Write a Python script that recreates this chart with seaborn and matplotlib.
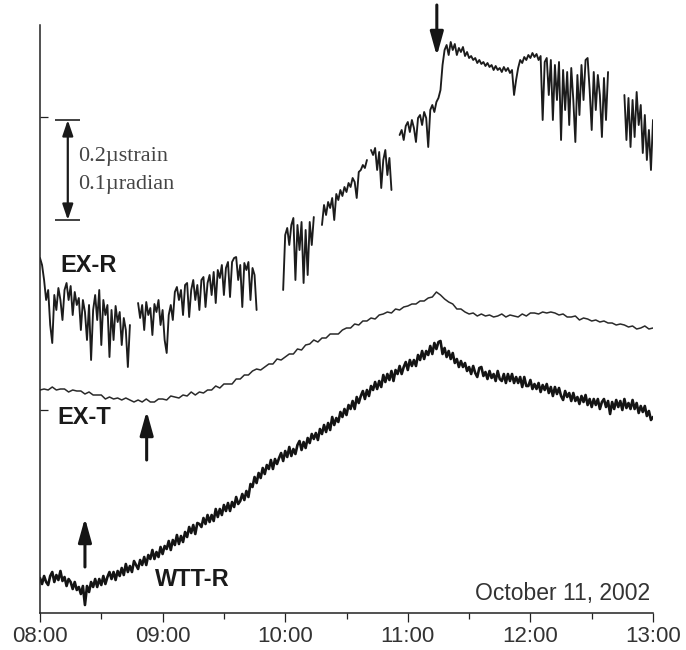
import numpy as np
import pandas as pd
import matplotlib
matplotlib.use("Agg")
import matplotlib.pyplot as plt
import seaborn as sns

nan = np.nan

# ---- axis data: minutes after 08:00 ----
tick_minutes = [0, 60, 120, 180, 240, 300]
tick_labels = ["08:00", "09:00", "10:00", "11:00", "12:00", "13:00"]
minor_minutes = [30, 90, 150, 210, 270]
date_label = "October 11, 2002"
trace_names = ["EX-R", "EX-T", "WTT-R"]

# relative level, 1 unit = 0.002 µstrain (scale bar: 100 units = 0.2 µstrain / 0.1 µradian)
minutes_1 = np.arange(0, 301)        # 1-minute samples (EX-R, WTT-R)
minutes_2 = np.arange(0, 301, 2)     # 2-minute samples (EX-T)

ex_r = [
    355, 348, 333, 313, 323, 288, 270, 318, 303, 325,
    313, 293, 323, 330, 313, 327, 298, 321, 308, 315,
    283, 313, 301, 273, 308, 253, 303, 318, 293, 323,
    268, 313, 298, 308, 256, 303, 273, 307, 291, 301,
    268, 295, 283, 246, 288, nan, nan, nan, 310, 295,
    308, 283, 311, 298, 305, 278, 309, 301, 313, 288,
    303, 273, 260, 298, 308, 293, 321, 326, 313, 323,
    298, 328, 330, 296, 323, 333, 313, 328, 303, 333,
    336, 306, 330, 338, 318, 341, 310, 343, 335, 348,
    318, 345, 351, 316, 351, 355, 356, 333, 348, 306,
    350, 343, 351, 313, 345, 338, 303, nan, nan, nan,
    nan, nan, nan, nan, nan, nan, nan, nan, nan, 323,
    378, 385, 368, 388, 395, 333, 388, 363, 391, 330,
    383, 338, 391, 368, 396, nan, nan, nan, 388, 408,
    398, 411, 405, 415, 393, 419, 413, 423, 417, 426,
    421, 430, 426, 435, 431, 415, 441, 443, 448, 445,
    453, nan, 463, 458, 465, 443, 461, 425, 453, 463,
    438, 455, 423, nan, nan, nan, 478, 483, 473, 487,
    491, 481, 493, 485, 471, 495, 498, 488, 501, 495,
    466, 503, 508, 501, 511, 515, 523, 548, 563, 568,
    558, 571, 563, 569, 558, 565, 561, 566, 557, 561,
    555, 557, 553, 555, 550, 553, 549, 551, 547, 550,
    546, 548, 543, 547, 543, 545, 541, 546, 542, 545,
    540, 543, 518, 533, 545, 553, 550, 556, 553, 558,
    555, 560, 556, 559, 553, 557, 493, 551, 555, 518,
    553, 493, 548, 513, 551, 473, 543, 503, 541, 488,
    545, 513, 471, 538, 498, 548, 513, 553, 555, 523,
    483, 541, 503, 538, 518, 476, 535, 493, 541, nan,
    nan, nan, nan, nan, nan, nan, 518, 473, 515, 466,
    513, 476, 521, 488, 508, 460, 498, 453, 483, 443,
    493,
]

ex_t = [
    223, 224, 223, 226, 223, 224, 224, 221, 223, 222,
    222, 219, 221, 218, 218, 218, 214, 216, 214, 215,
    213, 215, 213, 211, 213, 211, 214, 211, 211, 214,
    214, 213, 217, 216, 215, 218, 217, 221, 218, 221,
    220, 223, 223, 227, 225, 229, 229, 229, 234, 234,
    238, 238, 242, 244, 243, 246, 249, 249, 254, 253,
    256, 259, 259, 264, 263, 268, 269, 273, 271, 275,
    275, 279, 279, 279, 283, 285, 285, 289, 288, 292,
    292, 295, 294, 298, 299, 301, 300, 304, 303, 306,
    307, 309, 309, 312, 312, 315, 316, 321, 318, 314,
    311, 309, 304, 304, 301, 299, 300, 297, 299, 297,
    298, 296, 297, 299, 296, 298, 297, 296, 299, 297,
    300, 300, 299, 301, 300, 301, 300, 298, 299, 296,
    296, 297, 293, 295, 294, 292, 293, 291, 292, 290,
    290, 288, 289, 288, 286, 287, 284, 285, 287, 284,
    285,
]

wtt_r = [
    35, 29, 37, 31, 28, 37, 41, 31, 38, 33,
    42, 32, 36, 27, 34, 31, 24, 31, 23, 26,
    19, 27, 8, 27, 21, 31, 26, 34, 26, 34,
    28, 37, 29, 36, 41, 34, 41, 33, 42, 37,
    45, 38, 49, 41, 47, 41, 52, 48, 44, 53,
    48, 56, 48, 58, 54, 63, 54, 61, 56, 66,
    59, 67, 64, 72, 63, 73, 68, 78, 69, 77,
    71, 81, 76, 86, 80, 88, 79, 90, 89, 86,
    95, 89, 98, 91, 98, 92, 104, 96, 104, 98,
    108, 102, 110, 102, 111, 106, 116, 109, 112, 119,
    113, 122, 116, 129, 126, 136, 130, 140, 135, 145,
    139, 148, 144, 153, 144, 154, 149, 155, 160, 152,
    162, 156, 166, 157, 164, 159, 168, 172, 163, 171,
    165, 175, 170, 179, 174, 180, 173, 184, 179, 188,
    181, 190, 183, 196, 188, 195, 191, 201, 196, 204,
    198, 208, 204, 212, 204, 216, 210, 217, 222, 214,
    223, 217, 227, 223, 231, 224, 232, 226, 238, 231,
    239, 233, 242, 232, 243, 239, 247, 239, 246, 251,
    243, 253, 247, 253, 247, 258, 253, 262, 254, 262,
    258, 267, 259, 270, 264, 271, 272, 259, 265, 256,
    262, 254, 260, 250, 254, 246, 252, 246, 250, 242,
    246, 239, 247, 240, 236, 245, 246, 237, 241, 234,
    242, 235, 239, 232, 242, 234, 232, 239, 230, 239,
    232, 239, 230, 236, 230, 236, 226, 236, 227, 227,
    233, 224, 229, 224, 230, 221, 228, 223, 229, 220,
    226, 217, 226, 219, 225, 217, 213, 222, 216, 220,
    212, 220, 212, 216, 209, 217, 211, 218, 208, 214,
    206, 214, 208, 214, 204, 211, 214, 206, 212, 199,
    211, 204, 213, 206, 212, 203, 214, 205, 210, 204,
    213, 204, 210, 200, 207, 201, 207, 197, 202, 193,
    196,
]

# scale bar (data units)
scale_lo, scale_hi = 393, 493
scale_texts = ["0.2µstrain", "0.1µradian"]


def to_frame(t, v):
    arr = np.asarray(v, dtype=float)
    seg = np.cumsum(np.isnan(arr))
    ok = ~np.isnan(arr)
    return pd.DataFrame({"t": np.asarray(t)[ok], "v": arr[ok], "seg": seg[ok]})


sns.set_theme(style="ticks")
plt.rcParams["font.family"] = ["Liberation Sans", "DejaVu Sans"]

fig = plt.figure(figsize=(6.86, 6.5), dpi=100)
ax = fig.add_axes([40 / 686, 37 / 650, 613 / 686, 588 / 650])

df_r = to_frame(minutes_1, ex_r)
df_t = to_frame(minutes_2, ex_t)
df_w = to_frame(minutes_1, wtt_r)

sns.lineplot(data=df_r, x="t", y="v", units="seg", estimator=None, sort=False,
             color="#1c1c1c", linewidth=1.35, ax=ax, legend=False)
sns.lineplot(data=df_t, x="t", y="v", units="seg", estimator=None, sort=False,
             color="#2a2a2a", linewidth=1.1, ax=ax, legend=False)
sns.lineplot(data=df_w, x="t", y="v", units="seg", estimator=None, sort=False,
             color="#141414", linewidth=1.9, ax=ax, legend=False)

ax.set_xlim(0, 300)
ax.set_ylim(0, 588)
ax.set_xlabel("")
ax.set_ylabel("")
sns.despine(ax=ax)
for s in ("left", "bottom"):
    ax.spines[s].set_linewidth(1.1)
    ax.spines[s].set_color("#222222")

ax.set_xticks(tick_minutes)
ax.set_xticklabels(tick_labels)
ax.set_xticks(minor_minutes, minor=True)
ax.tick_params(axis="x", which="major", direction="out", length=6.5, width=0.9,
               pad=3, labelsize=16, colors="#222222", labelcolor="#333333")
ax.tick_params(axis="x", which="minor", direction="out", length=4, width=0.9,
               colors="#222222")
ax.set_yticks([203, 496])
ax.set_yticklabels([])
ax.tick_params(axis="y", which="major", direction="in", length=5.8, width=0.9,
               colors="#222222")

# trace labels
lab_kw = dict(fontsize=17, fontweight="heavy", color="#1a1a1a", va="center", ha="left")
ax.text(9.8, 348, trace_names[0], **lab_kw)
ax.text(8.3, 195, trace_names[1], **lab_kw)
ax.text(56.3, 33, trace_names[2], **lab_kw)

ax.text(298.5, 13, date_label, fontsize=16.5, color="#333333", ha="right", va="baseline")

# scale bar
bar_color = "#333333"
ax.plot([7.3, 19.6], [scale_hi, scale_hi], color=bar_color, lw=1.3, solid_capstyle="butt")
ax.plot([7.3, 19.6], [scale_lo, scale_lo], color=bar_color, lw=1.3, solid_capstyle="butt")
ax.annotate("", xy=(13.6, scale_hi), xytext=(13.6, scale_lo),
            arrowprops=dict(arrowstyle="<|-|>,head_length=0.47,head_width=0.16",
                            mutation_scale=20, lw=1.6, color="#1a1a1a",
                            shrinkA=0, shrinkB=0))
serif_kw = dict(fontsize=16, color="#444444", ha="left", va="center",
                family=["Liberation Serif", "DejaVu Serif"])
ax.text(18.6, 456, scale_texts[0], **serif_kw)
ax.text(18.6, 429, scale_texts[1], **serif_kw)

# event arrows
arr_kw = dict(arrowstyle="-|>,head_length=0.72,head_width=0.2", mutation_scale=20,
              lw=2.2, color="#151515", shrinkA=0, shrinkB=0)
ax.annotate("", xy=(194.2, 557), xytext=(194.2, 608), arrowprops=arr_kw,
            annotation_clip=False)
ax.annotate("", xy=(52.2, 202), xytext=(52.2, 153), arrowprops=arr_kw)
ax.annotate("", xy=(22.0, 95), xytext=(22.0, 46), arrowprops=arr_kw)

fig.savefig("out.png", dpi=100)
